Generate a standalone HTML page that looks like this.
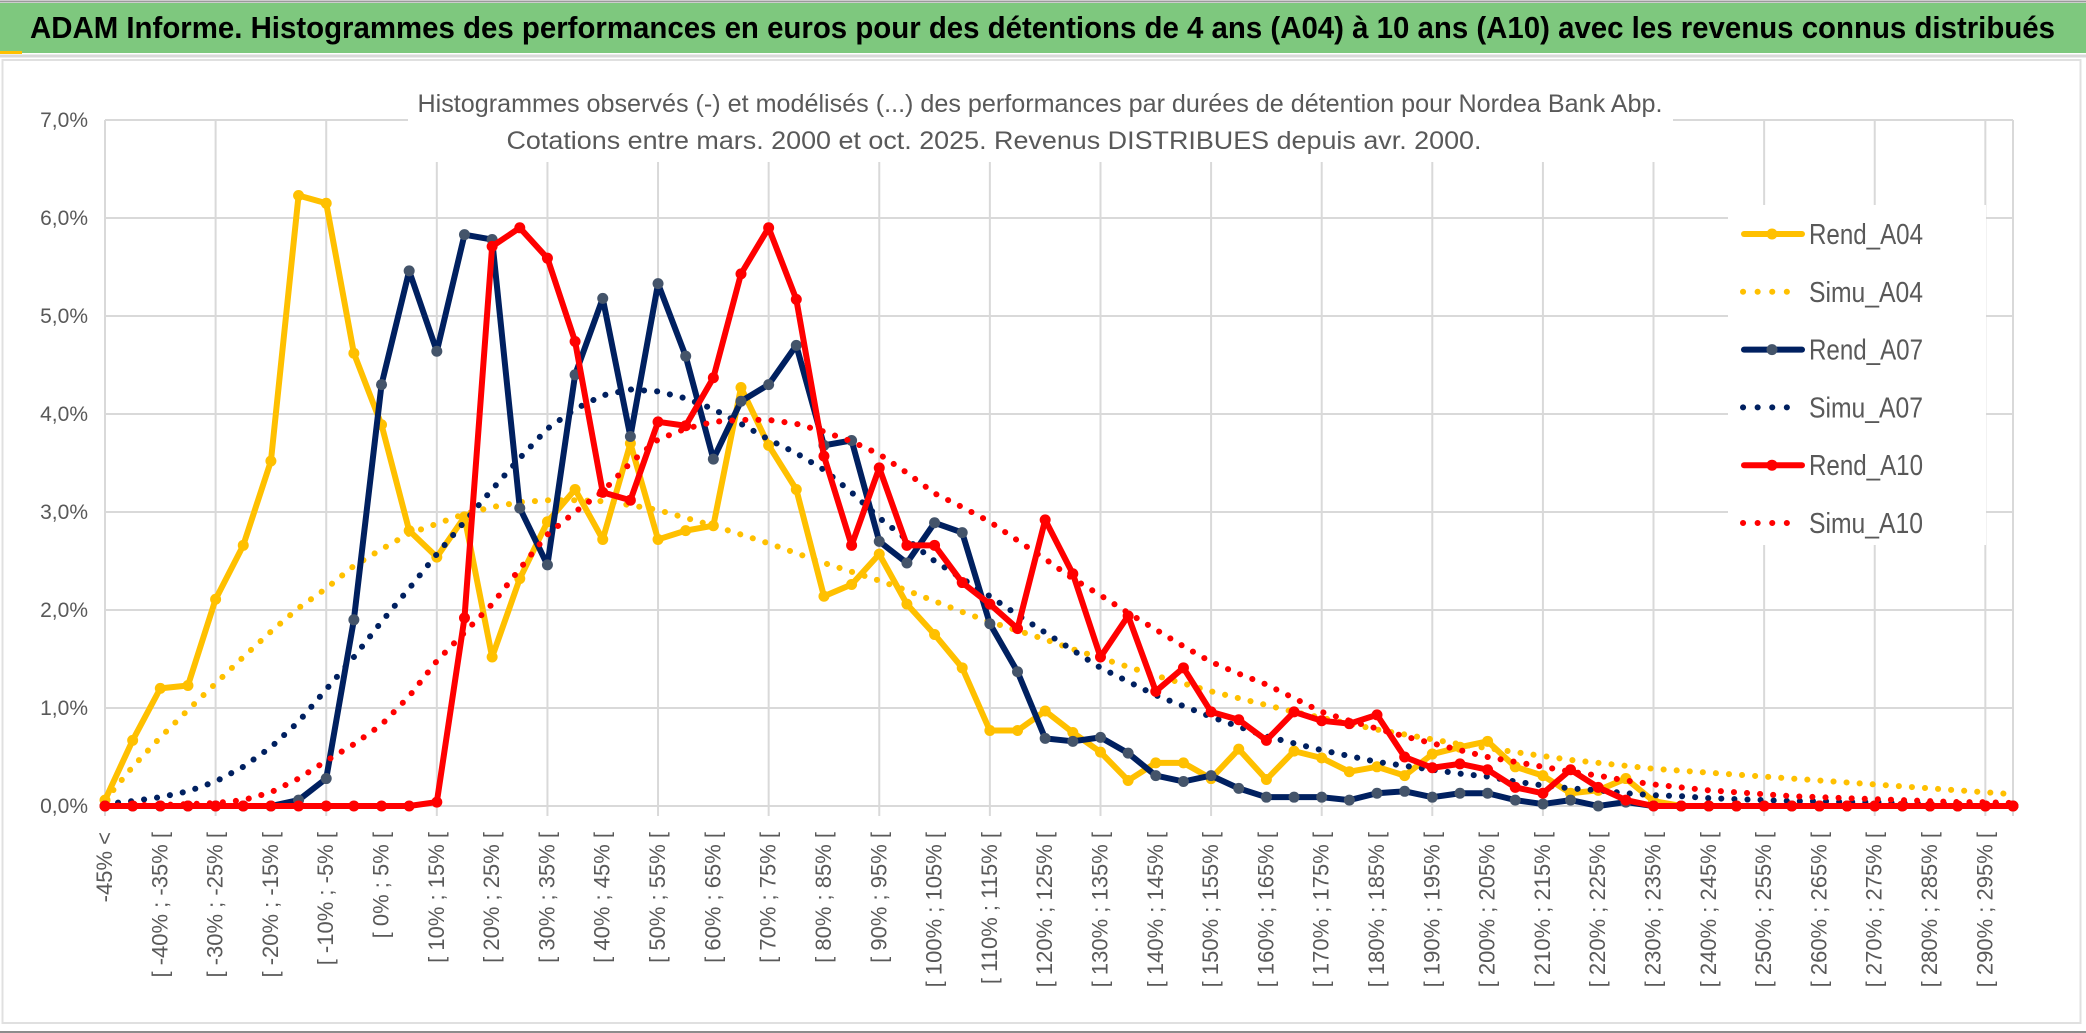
<!DOCTYPE html>
<html><head><meta charset="utf-8"><style>
html,body{margin:0;padding:0;background:#fff;}
svg{display:block;font-family:"Liberation Sans Narrow","Liberation Sans",sans-serif;}
</style></head><body>
<svg id="chart" width="2086" height="1033" viewBox="0 0 2086 1033" xmlns="http://www.w3.org/2000/svg">
<rect x="0" y="0" width="2086" height="1033" fill="#fff"/>
<line x1="0" y1="1.5" x2="2086" y2="1.5" stroke="#9a9a9a" stroke-width="2"/>
<rect x="0" y="3" width="2086" height="50" fill="#7ec87e"/>
<rect x="0" y="51" width="22" height="3" fill="#ffc000"/>
<text x="30" y="38" font-size="31" font-weight="bold" fill="#000" textLength="2025" lengthAdjust="spacingAndGlyphs">ADAM Informe. Histogrammes des performances en euros pour des détentions de 4 ans (A04) à 10 ans (A10) avec les revenus connus distribués</text>
<line x1="0" y1="56" x2="2086" y2="56" stroke="#d9d9d9" stroke-width="3"/>
<rect x="2.5" y="60" width="2078" height="963" fill="none" stroke="#e0e0e0" stroke-width="2"/>
<line x1="0" y1="1032" x2="2086" y2="1032" stroke="#8c8c8c" stroke-width="2"/>
<g id="grid"></g>
<rect x="408" y="86" width="1265" height="76" fill="#fff"/>
<text x="1040" y="112" font-size="25" fill="#595959" text-anchor="middle" textLength="1245" lengthAdjust="spacingAndGlyphs">Histogrammes observés (-) et modélisés (...) des performances par durées de détention pour Nordea Bank Abp.</text>
<text x="994" y="149" font-size="25" fill="#595959" text-anchor="middle" textLength="975" lengthAdjust="spacingAndGlyphs">Cotations entre mars. 2000 et oct. 2025. Revenus DISTRIBUES depuis avr. 2000.</text>
<g id="yaxis"></g>
<g id="xaxis"></g>
<g id="series"></g>
<g id="legend"></g>
</svg>
<script>
const yTicks = [0,1,2,3,4,5,6,7];
const yTickLabels = ["0,0%","1,0%","2,0%","3,0%","4,0%","5,0%","6,0%","7,0%"];
const categories = ["-45% <"];
for (let k = 0; k < 69; k++) { const a = -45 + 5*k; categories.push("[ " + a + "% ; " + (a+5) + "% ["); }

const rendA04 = [0.06,0.67,1.20,1.23,2.11,2.66,3.52,6.23,6.15,4.62,
 3.89,2.81,2.54,2.95,1.52,2.32,2.90,3.23,2.72,3.70,
 2.72,2.81,2.86,4.27,3.68,3.23,2.14,2.26,2.57,2.06,
 1.75,1.41,0.77,0.77,0.97,0.75,0.55,0.26,0.44,0.44,
 0.28,0.58,0.27,0.56,0.49,0.35,0.40,0.31,0.53,0.60,
 0.66,0.40,0.31,0.13,0.16,0.28,0.05,0,0,0,
 0,0,0,0,0,0,0,0,0,0];
const simuA04 = [0.06,0.40,0.70,0.98,1.25,1.52,1.78,2.02,2.22,2.45,
 2.62,2.78,2.88,2.98,3.05,3.10,3.12,3.12,3.11,3.07,
 3.02,2.94,2.86,2.77,2.68,2.58,2.48,2.39,2.30,2.20,
 2.09,1.98,1.88,1.79,1.70,1.60,1.51,1.42,1.33,1.25,
 1.17,1.10,1.03,0.96,0.90,0.84,0.78,0.73,0.68,0.63,
 0.59,0.55,0.51,0.47,0.44,0.41,0.38,0.36,0.34,0.32,
 0.30,0.28,0.26,0.24,0.22,0.20,0.18,0.16,0.14,0.12];
const rendA07 = [0,0,0,0,0,0,0,0.06,0.28,1.90,
 4.30,5.46,4.64,5.83,5.78,3.04,2.46,4.40,5.18,3.77,
 5.33,4.59,3.54,4.13,4.30,4.70,3.68,3.73,2.70,2.48,
 2.89,2.79,1.86,1.37,0.69,0.66,0.70,0.54,0.31,0.25,
 0.31,0.18,0.09,0.09,0.09,0.06,0.13,0.15,0.09,0.13,
 0.13,0.06,0.02,0.06,0,0.04,0,0,0,0,
 0,0,0,0,0,0,0,0,0,0];
const simuA07 = [0.02,0.05,0.09,0.15,0.25,0.40,0.60,0.86,1.19,1.52,
 1.88,2.22,2.57,2.90,3.23,3.55,3.85,4.05,4.19,4.25,
 4.23,4.16,4.05,3.90,3.74,3.60,3.43,3.20,2.94,2.72,
 2.50,2.32,2.14,1.95,1.77,1.59,1.41,1.27,1.13,1.02,
 0.91,0.81,0.71,0.64,0.57,0.51,0.45,0.41,0.37,0.33,
 0.30,0.25,0.21,0.18,0.16,0.13,0.11,0.10,0.08,0.07,
 0.06,0.05,0.05,0.04,0.04,0.03,0.03,0.02,0.02,0.02];
const rendA10 = [0,0,0,0,0,0,0,0,0,0,
 0,0,0.04,1.92,5.71,5.90,5.59,4.74,3.20,3.12,
 3.92,3.88,4.37,5.43,5.90,5.17,3.57,2.66,3.45,2.66,
 2.66,2.28,2.06,1.81,2.92,2.37,1.52,1.94,1.17,1.41,
 0.96,0.88,0.67,0.96,0.87,0.84,0.93,0.50,0.39,0.43,
 0.37,0.19,0.13,0.37,0.19,0.06,0,0,0,0,
 0,0,0,0,0,0,0,0,0,0];
const simuA10 = [0,0.01,0.01,0.02,0.03,0.06,0.14,0.28,0.46,0.63,
 0.83,1.12,1.48,1.77,2.06,2.42,2.77,3.00,3.21,3.50,
 3.74,3.85,3.92,3.94,3.94,3.90,3.82,3.72,3.59,3.40,
 3.19,3.05,2.90,2.71,2.52,2.32,2.15,1.97,1.80,1.63,
 1.47,1.35,1.24,1.10,0.96,0.87,0.79,0.71,0.64,0.57,
 0.50,0.45,0.40,0.35,0.31,0.26,0.22,0.19,0.16,0.14,
 0.12,0.10,0.09,0.08,0.07,0.06,0.05,0.04,0.04,0.03];
const seriesNames = ["Rend_A04","Simu_A04","Rend_A07","Simu_A07","Rend_A10","Simu_A10"];

const NS = "http://www.w3.org/2000/svg";
const X0 = 105, X1 = 2013, Y0 = 806, YTOP = 120, YMAX = 7;
const xScale = i => X0 + (X1 - X0) * i / (categories.length - 1);
const yScale = v => Y0 - (Y0 - YTOP) * v / YMAX;
function mk(tag, parent, attrs) {
  const e = document.createElementNS(NS, tag);
  for (const k in attrs) e.setAttribute(k, attrs[k]);
  parent.appendChild(e);
  return e;
}
const grid = document.getElementById('grid');
yTicks.forEach(t => {
  const l = mk('line', grid, {x1: X0, x2: X1, y1: yScale(t), y2: yScale(t), stroke: '#d9d9d9', 'stroke-width': 2});
  
  
});
for (let i = 0; i < categories.length; i += 4) {
  const l = mk('line', grid, {x1: xScale(i), x2: xScale(i), y1: yScale(YMAX), y2: Y0 + 10, stroke: '#d9d9d9', 'stroke-width': 2});
  
  
}
{ const l = mk('line', grid, {x1: X1, x2: X1, y1: yScale(YMAX), y2: Y0 + 10, stroke: '#d9d9d9', 'stroke-width': 2});
  
   }
const yaxis = document.getElementById('yaxis');
yTicks.forEach((t, k) => {
  const tx = mk('text', yaxis, {x: 88, y: yScale(t) + 7, 'text-anchor': 'end', 'font-size': 21, fill: '#595959'});
  tx.textContent = yTickLabels[k];
  
  
});
const xaxis = document.getElementById('xaxis');
categories.forEach((c, i) => {
  if (i % 2) return;
  const x = xScale(i) + 7, y = 832;
  const tx = mk('text', xaxis, {x: x, y: y, 'text-anchor': 'end', 'font-size': 22, fill: '#595959', transform: `rotate(-90 ${x} ${y})`, style: 'font-family:"Liberation Sans",sans-serif'});
  tx.textContent = c;
  
  
});
const sg = document.getElementById('series');
function solid(data, color, mcolor, name) {
  const g = mk('g', sg, {});
  
  
  const p = mk('polyline', g, {points: data.map((v, i) => xScale(i) + ',' + yScale(v)).join(' '), fill: 'none', stroke: color, 'stroke-width': 6, 'stroke-linejoin': 'round', 'stroke-linecap': 'round'});
  
  
  data.forEach((v, i) => {
    const c = mk('circle', g, {cx: xScale(i), cy: yScale(v), r: 5.5, fill: mcolor});
    
    
  });
}
function dotted(data, color, name) {
  const p = mk('polyline', sg, {points: data.map((v, i) => xScale(i) + ',' + yScale(v)).join(' '), fill: 'none', stroke: color, 'stroke-width': 6, 'stroke-linecap': 'round', 'stroke-dasharray': '0.1 13'});
  
  
}
solid(rendA04, '#ffc000', '#ffc000', 'rend-a04');
dotted(simuA04, '#ffc000', 'simu-a04');
solid(rendA07, '#002060', '#44546a', 'rend-a07');
dotted(simuA07, '#002060', 'simu-a07');
solid(rendA10, '#ff0000', '#ff0000', 'rend-a10');
dotted(simuA10, '#ff0000', 'simu-a10');

const lg = document.getElementById('legend');
{ const r = mk('rect', lg, {x: 1728, y: 205, width: 258, height: 340, fill: '#fff'});
  
   }
const legColors = ['#ffc000','#ffc000','#002060','#002060','#ff0000','#ff0000'];
const legMarker = ['#ffc000',null,'#44546a',null,'#ff0000',null];
seriesNames.forEach((n, k) => {
  const y = 234 + k * 57.8;
  const g = mk('g', lg, {});
  
  
  if (legMarker[k]) {
    mk('line', g, {x1: 1744, x2: 1802, y1: y, y2: y, stroke: legColors[k], 'stroke-width': 6, 'stroke-linecap': 'round'});
    mk('circle', g, {cx: 1772, cy: y, r: 5.5, fill: legMarker[k]});
  } else {
    mk('line', g, {x1: 1743, x2: 1800, y1: y, y2: y, stroke: legColors[k], 'stroke-width': 6, 'stroke-linecap': 'round', 'stroke-dasharray': '0.1 14.5'});
  }
  const t = mk('text', g, {x: 1809, y: y + 10, 'font-size': 29, fill: '#595959', textLength: 114, lengthAdjust: 'spacingAndGlyphs'});
  t.textContent = n;
});
</script>
</body></html>
